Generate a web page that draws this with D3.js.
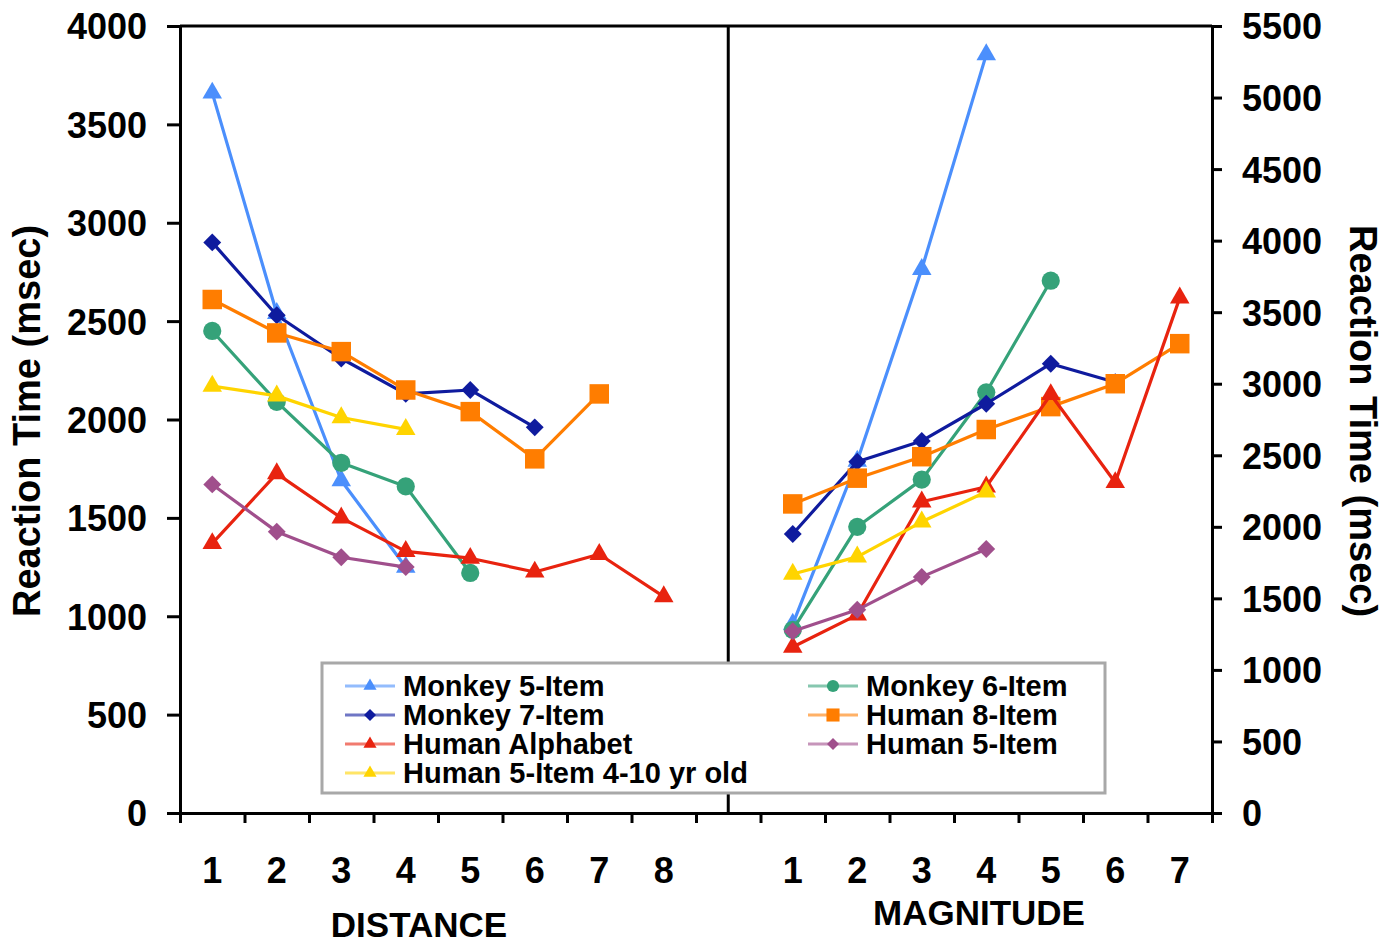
<!DOCTYPE html>
<html>
<head>
<meta charset="utf-8">
<script src="https://cdn.jsdelivr.net/npm/d3@7"></script>
<style>
  body { margin: 0; background: #fff; }
  svg { display: block; font-family: "Liberation Sans", Arial, sans-serif; }
</style>
</head>
<body>
<div id="chart"></div>
<script>
// tick labels for the two panels
var distanceLabels = ["1", "2", "3", "4", "5", "6", "7", "8"];
var magnitudeLabels = ["1", "2", "3", "4", "5", "6", "7"];
var leftTicks = [0, 500, 1000, 1500, 2000, 2500, 3000, 3500, 4000];
var rightTicks = [0, 500, 1000, 1500, 2000, 2500, 3000, 3500, 4000, 4500, 5000, 5500];

// series values (msec), distance panel on left axis, magnitude panel on right axis
var seriesNames = ["Monkey 5-Item", "Monkey 6-Item", "Monkey 7-Item", "Human 8-Item",
                   "Human Alphabet", "Human 5-Item", "Human 5-Item 4-10 yr old"];
var monkey5Dist = [3660, 2540, 1690, 1250];
var monkey5Mag = [1320, 2460, 3800, 5300];
var monkey6Dist = [2450, 2090, 1780, 1660, 1220];
var monkey6Mag = [1280, 2000, 2330, 2940, 3720];
var monkey7Dist = [2900, 2530, 2310, 2130, 2150, 1960];
var monkey7Mag = [1950, 2455, 2600, 2860, 3140, 3010];
var human8Dist = [2610, 2440, 2345, 2150, 2040, 1800, 2130];
var human8Mag = [2160, 2340, 2490, 2680, 2840, 3000, 3280];
var alphabetDist = [1370, 1725, 1500, 1330, 1295, 1225, 1315, 1100];
var alphabetMag = [1160, 1385, 2175, 2280, 2925, 2310, 3600];
var human5Dist = [1670, 1430, 1300, 1250];
var human5Mag = [1270, 1420, 1650, 1845];
var kidsDist = [2170, 2120, 2010, 1950];
var kidsMag = [1670, 1790, 2035, 2245];

var colors = ["#4b8ffc", "#35a279", "#0f1b9e", "#ff7d00", "#e8230f", "#a04f8c", "#ffd400"];
var shapes = ["triangle", "circle", "diamond", "square", "triangle", "diamond", "triangle"];
var distData = [monkey5Dist, monkey6Dist, monkey7Dist, human8Dist, alphabetDist, human5Dist, kidsDist];
var magData = [monkey5Mag, monkey6Mag, monkey7Mag, human8Mag, alphabetMag, human5Mag, kidsMag];

var svgWidth = 1393, svgHeight = 944;
var margin = { top: 26, left: 180, right: 181, bottom: 131 };
var plotBottom = svgHeight - margin.bottom;
var plotRight = svgWidth - margin.right;

var svg = d3.select("#chart").append("svg")
    .attr("width", svgWidth)
    .attr("height", svgHeight);

// one band per slot: distance 1-8, an empty gap slot, magnitude 1-7
var slots = distanceLabels.map(d => "d" + d).concat(["gap"], magnitudeLabels.map(d => "m" + d));
var xScale = d3.scaleBand().domain(slots).range([margin.left, plotRight]).padding(0);
var xCenter = key => xScale(key) + xScale.bandwidth() / 2;
var boundScale = d3.scaleLinear().domain([0, slots.length]).range([margin.left, plotRight]);

var yLeft = d3.scaleLinear().domain([0, 4000]).range([plotBottom, margin.top]);
var yRight = d3.scaleLinear().domain([0, 5500]).range([plotBottom, margin.top]);

// frame top line and divider
svg.append("line")
    .attr("x1", margin.left).attr("x2", plotRight)
    .attr("y1", margin.top).attr("y2", margin.top)
    .attr("stroke", "#000").attr("stroke-width", 3);
svg.append("line")
    .attr("x1", xCenter("gap")).attr("x2", xCenter("gap"))
    .attr("y1", margin.top).attr("y2", plotBottom)
    .attr("stroke", "#000").attr("stroke-width", 3);

// x axis: boundary ticks
var xBoundAxis = d3.axisBottom(boundScale).ticks(slots.length).tickSize(10).tickFormat("");
var gx = svg.append("g").attr("transform", `translate(0, ${plotBottom})`).call(xBoundAxis);
gx.select(".domain").attr("stroke-width", 3);
gx.selectAll(".tick line").attr("stroke-width", 3);

// x axis: category labels
var xLabelAxis = d3.axisBottom(xScale).tickSize(0)
    .tickFormat(k => k === "gap" ? "" : k.slice(1));
var gxl = svg.append("g").attr("transform", `translate(0, ${plotBottom})`).call(xLabelAxis);
gxl.select(".domain").remove();
gxl.selectAll("text")
    .attr("y", 70).attr("dy", 0)
    .attr("font-size", 36).attr("font-weight", "bold")
    .attr("font-family", "Liberation Sans, Arial, sans-serif")
    .attr("fill", "#000");

// y axes
function styleY(g) {
    g.select(".domain").attr("stroke-width", 3);
    g.selectAll(".tick line").attr("stroke-width", 3);
    g.selectAll("text")
        .attr("font-size", 36).attr("font-weight", "bold")
        .attr("font-family", "Liberation Sans, Arial, sans-serif")
        .attr("dy", "0.36em")
        .attr("fill", "#000");
}
var gyl = svg.append("g").attr("transform", `translate(${margin.left}, 0)`)
    .call(d3.axisLeft(yLeft).tickValues(leftTicks).tickFormat(d3.format("d"))
        .tickSize(13).tickPadding(20).tickSizeOuter(0));
styleY(gyl);
var gyr = svg.append("g").attr("transform", `translate(${plotRight}, 0)`)
    .call(d3.axisRight(yRight).tickValues(rightTicks).tickFormat(d3.format("d"))
        .tickSize(10).tickPadding(20).tickSizeOuter(0));
styleY(gyr);

// axis titles
svg.append("text")
    .attr("transform", `translate(40, 421) rotate(-90)`)
    .attr("text-anchor", "middle")
    .attr("font-size", 38).attr("font-weight", "bold")
    .text("Reaction Time (msec)");
svg.append("text")
    .attr("transform", `translate(1350, 421) rotate(90)`)
    .attr("text-anchor", "middle")
    .attr("font-size", 38).attr("font-weight", "bold")
    .text("Reaction Time (msec)");
svg.append("text")
    .attr("x", 419).attr("y", 937)
    .attr("text-anchor", "middle")
    .attr("font-size", 35).attr("font-weight", "bold")
    .text("DISTANCE");
svg.append("text")
    .attr("x", 979).attr("y", 925)
    .attr("text-anchor", "middle")
    .attr("font-size", 35).attr("font-weight", "bold")
    .text("MAGNITUDE");

// marker shapes
function symbolPath(shape, big) {
    var k = big ? 1 : 0.45;
    if (shape === "triangle") return d3.symbol(d3.symbolTriangle, 165 * k)();
    if (shape === "circle") return d3.symbol(d3.symbolCircle, 260 * k)();
    if (shape === "square") return d3.symbol(d3.symbolSquare, 380 * k)();
    return d3.symbol(d3.symbolSquare, 160 * k)();
}
function symbolRotate(shape) {
    return shape === "diamond" ? " rotate(45)" : "";
}

var line = d3.line();

// draw series in legend order, each series lines then markers
seriesNames.forEach(function (name, i) {
    var g = svg.append("g").attr("class", "series");
    var left = distData[i].map((v, j) => [xCenter("d" + distanceLabels[j]), yLeft(v)]);
    var right = magData[i].map((v, j) => [xCenter("m" + magnitudeLabels[j]), yRight(v)]);

    [left, right].forEach(function (pts) {
        g.append("path")
            .attr("d", line(pts))
            .attr("fill", "none")
            .attr("stroke", colors[i])
            .attr("stroke-width", 3.2)
            .attr("stroke-linejoin", "round");
        g.selectAll(null)
            .data(pts)
            .enter()
            .append("path")
            .attr("d", symbolPath(shapes[i], true))
            .attr("transform", d => `translate(${d[0]}, ${d[1]})${symbolRotate(shapes[i])}`)
            .attr("fill", colors[i]);
    });
});

// legend
var legend = svg.append("g").attr("class", "legend");
legend.append("rect")
    .attr("x", 322).attr("y", 663)
    .attr("width", 783).attr("height", 130)
    .attr("fill", "#fff")
    .attr("stroke", "#a8a8a8")
    .attr("stroke-width", 3);

seriesNames.forEach(function (name, i) {
    var col = i % 2, row = Math.floor(i / 2);
    var x0 = col === 0 ? 345 : 808;
    var cy = 686 + row * 29;
    var item = legend.append("g").attr("transform", `translate(${x0}, ${cy})`);
    item.append("line")
        .attr("x1", 0).attr("x2", 50)
        .attr("stroke", colors[i]).attr("stroke-width", 3)
        .attr("stroke-opacity", 0.6);
    item.append("path")
        .attr("d", symbolPath(shapes[i], false))
        .attr("transform", `translate(25, 0)${symbolRotate(shapes[i])}`)
        .attr("fill", colors[i]);
    item.append("text")
        .attr("x", 58).attr("y", 10)
        .attr("font-size", 29).attr("font-weight", "bold")
        .attr("textLength", null)
        .text(name);
});
</script>
</body>
</html>
